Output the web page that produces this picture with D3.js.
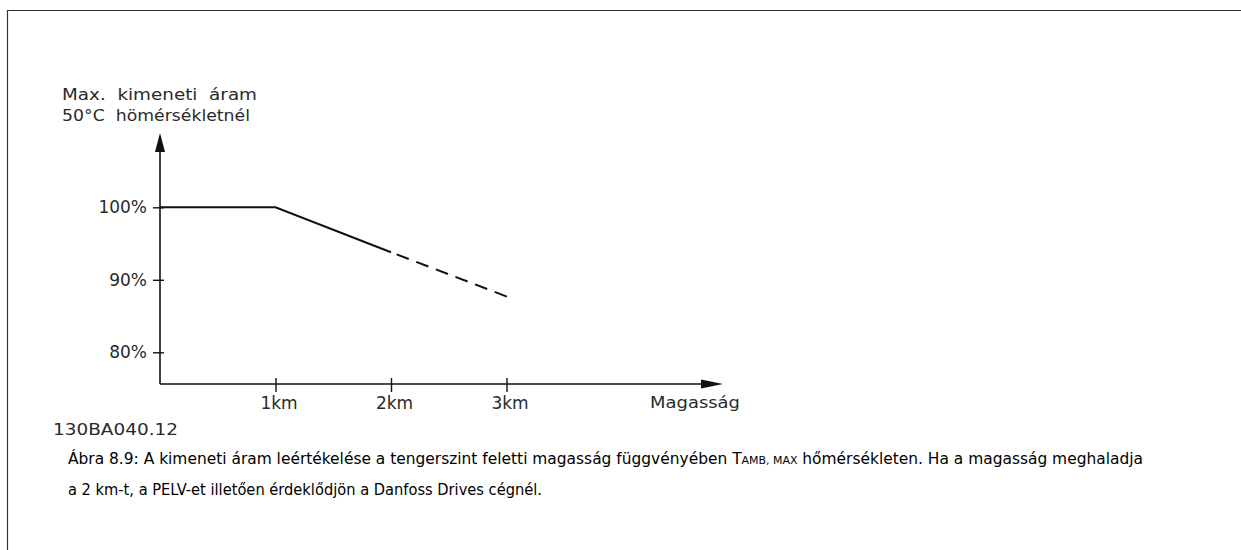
<!DOCTYPE html>
<html><head><meta charset="utf-8">
<script src="https://cdn.jsdelivr.net/npm/d3@7"></script>
<style>body{margin:0;background:#fff}svg{display:block}</style>
</head><body>
<svg id="c" width="1241" height="550"></svg>
<script>
// ---- data ----
const xTicks = [1, 2, 3];
const xTickLabels = ["1km", "2km", "3km"];
const yTicks = [80, 90, 100];
const yTickLabels = ["80%", "90%", "100%"];
const solidAlt = [0, 1, 2];
const solidVal = [100, 100, 93.8];
const dashedAlt = [2, 3.05];
const dashedVal = [93.8, 87.4];
const yTitle = ["Max.  kimeneti  áram", "50°C  hömérsékletnél"];
const xTitle = "Magasság";
const figId = "130BA040.12";
const caption1a = "Ábra 8.9: A kimeneti áram leértékelése a tengerszint feletti magasság függvényében T";
const caption1sub = "AMB, MAX";
const caption1b = " hőmérsékleten. Ha a magasság meghaladja";
const caption2 = "a 2 km-t, a PELV-et illetően érdeklődjön a Danfoss Drives cégnél.";

const svg = d3.select("#c");
const ink = "#111";
const techFont = "'DejaVu Sans', sans-serif";
const techFill = "#2a2a2a";

// frame
svg.append("path").attr("d", "M7.5,550 V10.5 H1241").attr("fill", "none").attr("stroke", "#333").attr("stroke-width", 1.2);

const x = d3.scaleLinear().domain([0, 3]).range([160, 506.5]);
const y = d3.scaleLinear().domain([80, 100]).range([352.3, 207.3]);
const x0 = x(0), yBase = 384;

const g = svg.append("g");

// axes lines with arrows
g.append("line").attr("x1", x0).attr("x2", 703).attr("y1", yBase).attr("y2", yBase).attr("stroke", ink).attr("stroke-width", 1.6);
g.append("path").attr("d", `M723,${yBase} L701,${yBase-4.5} L701,${yBase+4.5} Z`).attr("fill", ink);
g.append("line").attr("x1", x0).attr("x2", x0).attr("y1", yBase).attr("y2", 150).attr("stroke", ink).attr("stroke-width", 1.6);
g.append("path").attr("d", `M${x0},133 L${x0-5},152 L${x0+5},152 Z`).attr("fill", ink);

// x axis ticks
const xa = g.append("g").attr("transform", `translate(0,${yBase})`)
  .call(d3.axisBottom(x).tickValues(xTicks).tickSize(8).tickPadding(5)
    .tickFormat((d, i) => xTickLabels[i]));
xa.select(".domain").remove();
xa.selectAll(".tick line").attr("y1", -6).attr("y2", 8).attr("stroke", ink).attr("stroke-width", 1.4);
xa.selectAll(".tick text").attr("font-family", techFont).attr("font-size", 17).attr("fill", techFill)
  .attr("dx", 3);

// y axis ticks
const ya = g.append("g").attr("transform", `translate(${x0},0)`)
  .call(d3.axisLeft(y).tickValues(yTicks).tickSize(7).tickPadding(6)
    .tickFormat((d, i) => yTickLabels[i]));
ya.select(".domain").remove();
ya.selectAll(".tick line").attr("x1", 4).attr("stroke", ink).attr("stroke-width", 1.4);
ya.selectAll(".tick text").attr("font-family", techFont).attr("font-size", 17).attr("fill", techFill);

// data lines
const line = d3.line().x(d => x(d[0])).y(d => y(d[1]));
g.append("path").datum(d3.zip(solidAlt, solidVal)).attr("d", line)
  .attr("fill", "none").attr("stroke", ink).attr("stroke-width", 2);
g.append("path").datum(d3.zip(dashedAlt, dashedVal)).attr("d", line)
  .attr("fill", "none").attr("stroke", ink).attr("stroke-width", 2).attr("stroke-dasharray", "13,8").attr("stroke-dashoffset", -6);

// titles
const yt = [[62, 100, 195], [62, 121, 188]];
yTitle.forEach((t, i) => {
  svg.append("text").attr("x", yt[i][0]).attr("y", yt[i][1]).text(t)
    .attr("font-family", techFont).attr("font-size", 16.5).attr("fill", techFill)
    .attr("textLength", yt[i][2]).attr("lengthAdjust", "spacingAndGlyphs").style("white-space", "pre");
});
svg.append("text").attr("x", 650).attr("y", 408).text(xTitle)
  .attr("font-family", techFont).attr("font-size", 16.5).attr("fill", techFill)
  .attr("textLength", 90).attr("lengthAdjust", "spacingAndGlyphs");
svg.append("text").attr("x", 53).attr("y", 435).text(figId)
  .attr("font-family", techFont).attr("font-size", 16.5).attr("fill", techFill)
  .attr("textLength", 125).attr("lengthAdjust", "spacingAndGlyphs");

// caption
const capFont = "Tahoma, 'DejaVu Sans Condensed', 'DejaVu Sans', sans-serif";
const c1 = svg.append("text").attr("x", 68).attr("y", 464)
  .attr("font-family", capFont).attr("font-size", 15.5).attr("fill", "#000").style("font-stretch", "condensed");
c1.append("tspan").text(caption1a);
c1.append("tspan").text(caption1sub).attr("font-size", 11);
c1.append("tspan").text(caption1b);
c1.attr("textLength", 1075).attr("lengthAdjust", "spacingAndGlyphs");
svg.append("text").attr("x", 68).attr("y", 495).text(caption2)
  .attr("font-family", capFont).attr("font-size", 15.5).attr("fill", "#000").style("font-stretch", "condensed")
  .attr("textLength", 474).attr("lengthAdjust", "spacingAndGlyphs");
</script>
</body></html>
